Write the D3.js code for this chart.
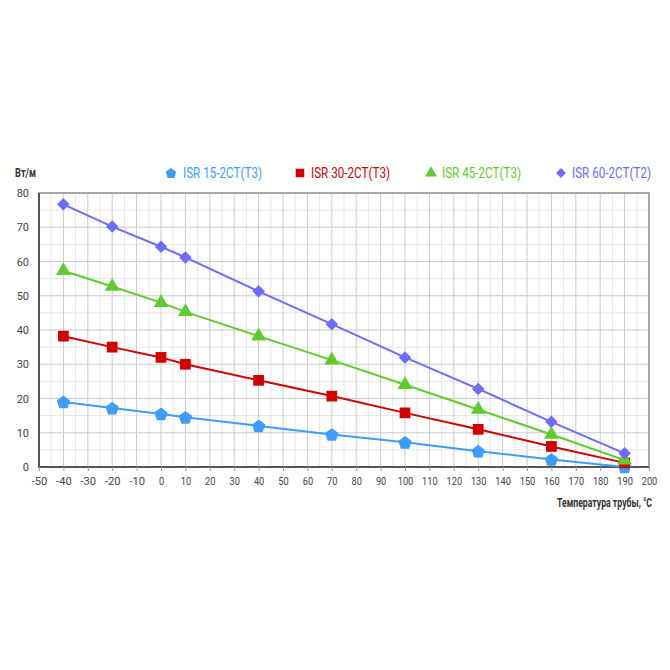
<!DOCTYPE html>
<html>
<head>
<meta charset="utf-8">
<script src="https://cdn.jsdelivr.net/npm/d3@7"></script>
<style>
  body { margin: 0; background: #fff; }
  text { font-family: Roboto, "Liberation Sans", sans-serif; }
</style>
</head>
<body>
<div id="chart"></div>
<script>
// данные с графика
var temps = [-40, -20, 0, 10, 40, 70, 100, 130, 160, 190]
var isr15 = [19, 17.2, 15.5, 14.5, 12, 9.5, 7.2, 4.6, 2.2, 0]
var isr30 = [38.2, 35, 32, 30, 25.3, 20.7, 15.8, 11, 6, 1.2]
var isr45 = [57.3, 52.7, 48, 45.3, 38.2, 31.2, 24, 16.8, 9.5, 2]
var isr60 = [76.7, 70.2, 64.3, 61.2, 51.3, 41.7, 32, 22.8, 13.2, 4]
var seriesNames = ["ISR 15-2CT(T3)", "ISR 30-2CT(T3)", "ISR 45-2CT(T3)", "ISR 60-2CT(T2)"]
var xTicks = d3.range(-50, 201, 10)
var yTicks = d3.range(0, 81, 10)

var series = [
    { name: seriesNames[0], values: isr15, color: "#3d9cff", shape: "pentagon" },
    { name: seriesNames[1], values: isr30, color: "#d40000", shape: "square" },
    { name: seriesNames[2], values: isr45, color: "#5fcc2e", shape: "triangle" },
    { name: seriesNames[3], values: isr60, color: "#6b6bff", shape: "diamond" }
]

var W = 670, H = 670
var pLeft = 39, pRight = 649, pTop = 193, pBottom = 467

var svg = d3.select("#chart").append("svg")
    .attr("width", W)
    .attr("height", H)

const x = d3.scaleLinear().domain([-50, 200]).range([pLeft, pRight])
const y = d3.scaleLinear().domain([0, 80]).range([pBottom, pTop])

// сетка
var g = svg.append("g")
g.selectAll(".vminor")
    .data(d3.range(-45, 200, 10))
    .enter().append("line")
    .attr("x1", d => x(d)).attr("x2", d => x(d))
    .attr("y1", pTop).attr("y2", pBottom)
    .attr("stroke", "#e6e6e6").attr("stroke-width", 1)
g.selectAll(".hminor")
    .data(d3.range(5, 80, 10))
    .enter().append("line")
    .attr("x1", pLeft).attr("x2", pRight)
    .attr("y1", d => y(d)).attr("y2", d => y(d))
    .attr("stroke", "#e6e6e6").attr("stroke-width", 1)
g.selectAll(".vmajor")
    .data(xTicks.slice(1, -1))
    .enter().append("line")
    .attr("x1", d => x(d)).attr("x2", d => x(d))
    .attr("y1", pTop).attr("y2", pBottom)
    .attr("stroke", "#cacaca").attr("stroke-width", 1)
g.selectAll(".hmajor")
    .data(yTicks.slice(1, -1))
    .enter().append("line")
    .attr("x1", pLeft).attr("x2", pRight)
    .attr("y1", d => y(d)).attr("y2", d => y(d))
    .attr("stroke", "#cacaca").attr("stroke-width", 1)

// рамка
svg.append("rect")
    .attr("x", pLeft).attr("y", pTop)
    .attr("width", pRight - pLeft).attr("height", pBottom - pTop)
    .attr("fill", "none").attr("stroke", "#8a8a8a").attr("stroke-width", 1.5)
svg.append("line")
    .attr("x1", pLeft).attr("x2", pLeft).attr("y1", pTop).attr("y2", pBottom + 1)
    .attr("stroke", "#555").attr("stroke-width", 2)
svg.append("line")
    .attr("x1", pLeft - 1).attr("x2", pRight).attr("y1", pBottom).attr("y2", pBottom)
    .attr("stroke", "#555").attr("stroke-width", 2)

// оси
var xAxis = svg.append("g")
    .attr("transform", "translate(0," + pBottom + ")")
    .call(d3.axisBottom(x).tickValues(xTicks).tickSize(4).tickPadding(6).tickFormat(d => String(d)))
xAxis.select(".domain").remove()
xAxis.selectAll("line").attr("stroke", "#999")
xAxis.selectAll("text")
    .attr("fill", "#444").attr("font-size", 11)
    .attr("font-family", "Roboto, sans-serif")
    .attr("textLength", d => String(d).length * 5.2)
    .attr("lengthAdjust", "spacingAndGlyphs")

var yAxis = svg.append("g")
    .attr("transform", "translate(" + pLeft + ",0)")
    .call(d3.axisLeft(y).tickValues(yTicks).tickSize(0).tickPadding(10))
yAxis.select(".domain").remove()
yAxis.selectAll("text")
    .attr("fill", "#444").attr("font-size", 11)
    .attr("font-family", "Roboto, sans-serif")

// линии и маркеры
var line = d3.line()
    .x((d, i) => x(temps[i]))
    .y(d => y(d))

// пятиугольник
function pentagon(r) {
    var pts = []
    for (var k = 0; k < 5; k++) {
        var a = -Math.PI / 2 + k * 2 * Math.PI / 5
        pts.push([r * Math.cos(a), r * Math.sin(a) + r * 0.1])
    }
    return "M" + pts.map(p => p.join(",")).join("L") + "Z"
}
function shapePath(shape, scale) {
    if (shape == "pentagon") return pentagon(7 * scale)
    if (shape == "square") return d3.symbol().type(d3.symbolSquare).size(115 * scale * scale)()
    if (shape == "triangle") return d3.symbol().type(d3.symbolTriangle).size(95 * scale * scale)()
    return d3.symbol().type(d3.symbolDiamond2).size(100 * scale * scale)()
}

series.forEach(function (s) {
    svg.append("path")
        .datum(s.values)
        .attr("d", line)
        .attr("fill", "none")
        .attr("stroke", s.color)
        .attr("stroke-width", 2)
    svg.selectAll(null)
        .data(s.values)
        .enter().append("path")
        .attr("transform", (d, i) => "translate(" + x(temps[i]) + "," + y(d) + ")")
        .attr("d", shapePath(s.shape, 1))
        .attr("fill", s.color)
})

// легенда
var legendX = [171, 300, 431, 561]
var legend = svg.selectAll(".legend")
    .data(series)
    .enter().append("g")
    .attr("transform", (d, i) => "translate(" + legendX[i] + ",173)")
legend.append("path")
    .attr("d", d => shapePath(d.shape, 0.8))
    .attr("fill", d => d.color)
legend.append("text")
    .attr("x", d => d.shape == "pentagon" ? 12 : 11)
    .attr("y", 5)
    .attr("font-size", 14)
    .attr("textLength", 79)
    .attr("lengthAdjust", "spacingAndGlyphs")
    .attr("fill", d => d.color)
    .text(d => d.name)

// подписи осей
svg.append("text")
    .attr("x", 15).attr("y", 177)
    .attr("font-size", 12).attr("font-weight", "bold")
    .attr("textLength", 21).attr("lengthAdjust", "spacingAndGlyphs")
    .attr("fill", "#333")
    .text("Вт/м")
svg.append("text")
    .attr("x", 557).attr("y", 507)
    .attr("font-size", 12).attr("font-weight", "bold")
    .attr("textLength", 95).attr("lengthAdjust", "spacingAndGlyphs")
    .attr("fill", "#333")
    .text("Температура трубы, °C")
</script>
</body>
</html>
